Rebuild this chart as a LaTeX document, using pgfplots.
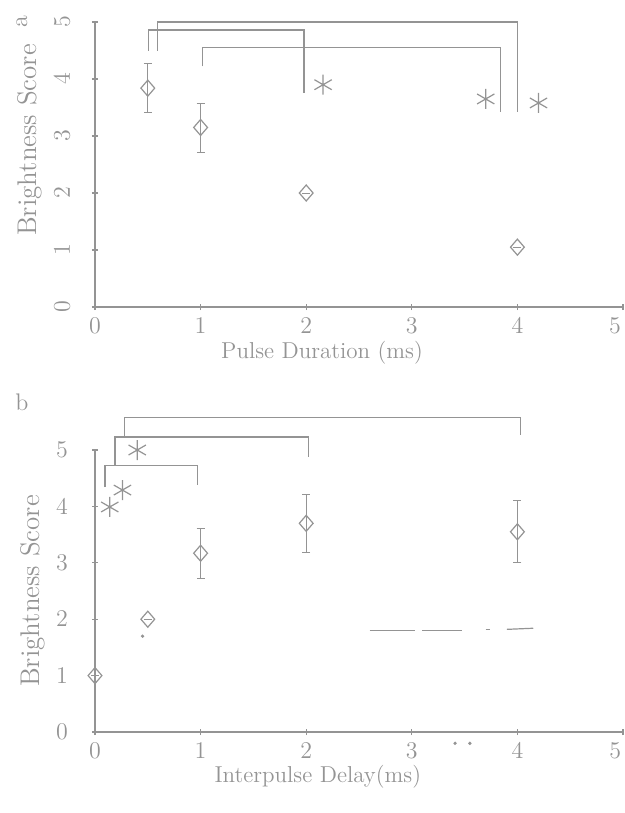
\documentclass[border=0pt]{standalone}
\usepackage{pgfplots}
\pgfplotsset{compat=1.18}
\usetikzlibrary{plotmarks}
\definecolor{ink}{gray}{0.58}
\begin{document}
\begin{tikzpicture}[x=1pt,y=1pt]
\useasboundingbox (0,0) rectangle (312.5,-406.5);
\pgfplotsset{
 panel/.style={
  scale only axis, width=264pt, xmin=0,xmax=5,ymin=0,ymax=5,
  axis lines=left, axis line style={-, ink, line width=0.6pt},
  clip=false, anchor=south west,
  xtick={0,...,5}, ytick={0,...,5},
  xticklabels={0,1,2,3,4,\llap{5\hspace{1pt}}},
  tick style={ink, line width=0.6pt}, major tick length=3pt, tick align=center,
  ticklabel style={text=ink, font=\fontsize{12}{14}\selectfont},
  label style={text=ink},
  every axis plot/.append style={ink, line width=0.6pt},
 },
 dia/.style={only marks, mark=diamond, mark size=4pt, mark options={ink, solid, line width=0.6pt, fill=white, xscale=1.15},
   error bars/.cd, y dir=both, y explicit, error bar style={ink, line width=0.6pt},
   error mark options={rotate=90, mark size=2pt, ink}},
 ast/.style={only marks, mark=asterisk, mark size=5pt, mark options={ink, line width=0.6pt}},
 brk/.style={no marks, ink, line width=0.6pt},
}
% panel a
\begin{axis}[panel, at={(47.5pt,-153.5pt)}, height=142.5pt,
  yticklabel style={rotate=90, anchor=south}, yticklabel shift=7.5pt,
  xlabel={Pulse Duration (ms)}, ylabel={Brightness Score},
  xlabel style={at={(axis description cs:0.43,-0.162)}, anchor=center, font=\fontsize{11.5}{13}\selectfont},
  ylabel style={at={(axis description cs:-0.123,0.586)}, anchor=center, font=\fontsize{13.5}{16}\selectfont}]
\addplot[dia] coordinates {(0.5,3.84) +- (0,0.43) (1,3.15) +- (0,0.43) (2,2.0) +- (0,0) (4,1.05) +- (0,0)};
\addplot[ast] coordinates {(2.16,3.9) (3.7,3.65) (4.2,3.58)};
\addplot[brk] coordinates {(0.51,4.5) (0.51,4.86) (1.98,4.86) (1.98,3.75)};
\addplot[brk] coordinates {(0.59,4.5) (0.59,5.0) (4.0,5.0) (4.0,3.42)};
\addplot[brk] coordinates {(1.02,4.22) (1.02,4.55) (3.84,4.55) (3.84,3.42)};
\end{axis}
% panel b
\begin{axis}[panel, at={(47.5pt,-366pt)}, height=141pt,
  yticklabel shift=8.5pt,
  xlabel={Interpulse Delay(ms)}, ylabel={Brightness Score},
  xlabel style={at={(axis description cs:0.422,-0.158)}, anchor=center, font=\fontsize{11.5}{13}\selectfont},
  ylabel style={at={(axis description cs:-0.117,0.50)}, anchor=center, font=\fontsize{13.5}{16}\selectfont}]
\addplot[dia] coordinates {(0,1.0) +- (0,0) (0.5,2.0) +- (0,0) (1,3.17) +- (0,0.44) (2,3.7) +- (0,0.52) (4,3.55) +- (0,0.55)};
\addplot[ast] coordinates {(0.14,3.99) (0.26,4.29) (0.40,5.0)};
\addplot[brk] coordinates {(0.095,4.34) (0.095,4.73) (0.97,4.73) (0.97,4.38)};
\addplot[brk] coordinates {(0.19,4.73) (0.19,5.23) (2.02,5.23) (2.02,4.88)};
\addplot[brk] coordinates {(0.28,5.23) (0.28,5.57) (4.03,5.57) (4.03,5.27)};
\addplot[brk] coordinates {(2.6,1.8) (3.03,1.8)};
\addplot[brk] coordinates {(3.1,1.8) (3.48,1.8)};
\addplot[brk] coordinates {(3.7,1.82) (3.74,1.82)};
\addplot[brk] coordinates {(3.9,1.82) (4.15,1.84)};
\addplot[only marks, mark=*, mark size=0.5pt, mark options={ink}] coordinates {(3.41,-0.2) (3.55,-0.2) (0.45,1.7)};
\end{axis}
\node[text=ink, rotate=90, font=\fontsize{12}{14}\selectfont] at (11,-11) {a};
\node[text=ink, font=\fontsize{12}{14}\selectfont] at (11,-201) {b};
\end{tikzpicture}
\end{document}
